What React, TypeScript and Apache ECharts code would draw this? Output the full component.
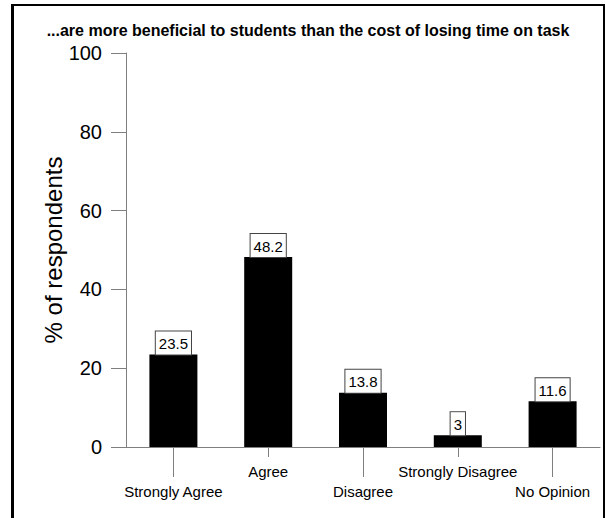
import React, { useEffect, useRef } from 'react';
import * as echarts from 'echarts';

const categories = ['Strongly Agree', 'Agree', 'Disagree', 'Strongly Disagree', 'No Opinion'];
const values = [23.5, 48.2, 13.8, 3, 11.6];
const yMin = 0;
const yMax = 100;
const yStep = 20;
const titleText = '...are more beneficial to students than the cost of losing time on task';
const yAxisName = '% of respondents';

export default function App() {
  const ref = useRef<HTMLDivElement>(null);
  useEffect(() => {
    const chart = echarts.init(ref.current!, null, { renderer: 'svg' });
    const axisGray = '#7f7f7f';
    const font = 'Liberation Sans, Arial, sans-serif';
    const isOdd = (i: number) => i % 2 === 1;
    const isEven = (i: number) => i % 2 === 0;
    chart.setOption({
      animation: false,
      textStyle: { fontFamily: font },
      title: {
        text: titleText,
        left: 303,
        top: 17,
        textAlign: 'center',
        textStyle: { fontFamily: font, fontWeight: 'bold', fontSize: 16, color: '#000' },
      },
      grid: { left: 126, right: 5, top: 53, bottom: 71 },
      xAxis: [
        {
          type: 'category',
          data: categories,
          position: 'bottom',
          axisLine: { show: true, onZero: false, lineStyle: { color: axisGray, width: 1 } },
          axisTick: { show: true, alignWithLabel: true, length: 10, interval: isOdd, lineStyle: { color: axisGray } },
          axisLabel: { interval: isOdd, margin: 17, fontSize: 15, color: '#000', fontFamily: font },
        },
        {
          type: 'category',
          data: categories,
          position: 'bottom',
          axisLine: { show: false, onZero: false },
          axisTick: { show: true, alignWithLabel: true, length: 30, interval: isEven, lineStyle: { color: axisGray } },
          axisLabel: { interval: isEven, margin: 37, fontSize: 15, color: '#000', fontFamily: font },
        },
      ],
      yAxis: {
        type: 'value',
        min: yMin,
        max: yMax,
        interval: yStep,
        name: yAxisName,
        nameLocation: 'middle',
        nameGap: 61,
        nameMoveOverlap: false,
        nameTextStyle: { fontSize: 24, color: '#000', fontFamily: font },
        axisLine: { show: true, lineStyle: { color: axisGray, width: 1 } },
        axisTick: { show: true, length: 15, lineStyle: { color: axisGray } },
        axisLabel: { fontSize: 20, margin: 24, color: '#000', fontFamily: font },
        splitLine: { show: false },
      },
      series: [
        {
          type: 'bar',
          xAxisIndex: 0,
          data: values,
          barWidth: 48,
          itemStyle: { color: '#000' },
          label: {
            show: true,
            position: 'top',
            distance: 0,
            formatter: '{c}',
            fontSize: 15,
            lineHeight: 16,
            color: '#000',
            fontFamily: font,
            backgroundColor: '#fff',
            borderColor: '#444',
            borderWidth: 1,
            padding: [4, 3, 3, 3],
          },
        },
      ],
      graphic: [
        { type: 'line', shape: { x1: 12.5, y1: 4, x2: 12.5, y2: 518 }, style: { stroke: '#000', lineWidth: 3 } },
        { type: 'line', shape: { x1: 11, y1: 5, x2: 605, y2: 5 }, style: { stroke: '#000', lineWidth: 2 } },
        { type: 'line', shape: { x1: 604, y1: 4, x2: 604, y2: 518 }, style: { stroke: '#000', lineWidth: 2 } },
      ],
    });
    return () => chart.dispose();
  }, []);
  return <div ref={ref} style={{ position: 'fixed', left: 0, top: 0, width: 605, height: 518, background: '#fff' }} />;
}
